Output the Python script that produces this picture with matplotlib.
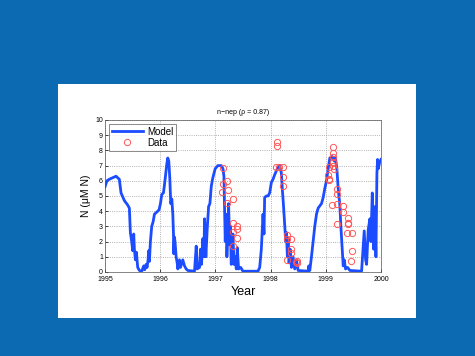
import numpy as np
import matplotlib.pyplot as plt
from matplotlib.patches import Rectangle

# Model curve (decimal year, N in uM N)
model_t = [1995.000, 1995.036, 1995.079, 1995.139, 1995.200, 1995.260, 1995.291, 1995.351,
           1995.412, 1995.442, 1995.460, 1995.484, 1995.502, 1995.521, 1995.533, 1995.551,
           1995.569, 1995.593, 1995.623, 1995.666, 1995.702, 1995.720, 1995.745, 1995.763,
           1995.781, 1995.793, 1995.805, 1995.823, 1995.847, 1995.872, 1995.896, 1995.956,
           1995.981, 1996.005, 1996.029, 1996.059, 1996.077, 1996.096, 1996.120, 1996.138,
           1996.156, 1996.174, 1996.192, 1996.211, 1996.229, 1996.241, 1996.247, 1996.259,
           1996.271, 1996.289, 1996.308, 1996.320, 1996.350, 1996.368, 1996.410, 1996.441,
           1996.471, 1996.501, 1996.622, 1996.653, 1996.671, 1996.713, 1996.731, 1996.749,
           1996.774, 1996.792, 1996.804, 1996.828, 1996.852, 1996.877, 1996.901, 1996.925,
           1996.943, 1996.961, 1996.998, 1997.046, 1997.107, 1997.137, 1997.155, 1997.167,
           1997.179, 1997.191, 1997.209, 1997.222, 1997.240, 1997.258, 1997.270, 1997.288,
           1997.318, 1997.337, 1997.361, 1997.379, 1997.397, 1997.421, 1997.458, 1997.500,
           1997.772, 1997.803, 1997.833, 1997.863, 1997.881, 1997.893, 1997.924, 1997.954,
           1997.984, 1998.015, 1998.045, 1998.075, 1998.123, 1998.166, 1998.196, 1998.214,
           1998.232, 1998.257, 1998.275, 1998.287, 1998.305, 1998.317, 1998.335, 1998.354,
           1998.378, 1998.408, 1998.438, 1998.469, 1998.499, 1998.680, 1998.692, 1998.711,
           1998.741, 1998.771, 1998.801, 1998.832, 1998.862, 1998.923, 1998.953, 1998.983,
           1999.013, 1999.044, 1999.074, 1999.116, 1999.153, 1999.177, 1999.201, 1999.225,
           1999.255, 1999.274, 1999.298, 1999.316, 1999.334, 1999.358, 1999.395, 1999.437,
           1999.649, 1999.697, 1999.722, 1999.740, 1999.770, 1999.800, 1999.818, 1999.843,
           1999.867, 1999.891, 1999.909, 1999.927, 1999.939, 1999.952, 1999.976, 2000.000]
model_n = [5.6, 6.0, 6.1, 6.2, 6.3, 6.1, 5.2, 4.7,
           4.4, 4.2, 2.6, 2.0, 1.4, 2.5, 1.5, 0.8,
           1.3, 0.3, 0.1, 0.05, 0.4, 0.15, 0.5, 0.3,
           0.8, 1.4, 0.7, 2.0, 3.0, 3.3, 3.8, 4.0,
           4.1, 4.5, 5.1, 5.2, 5.7, 6.3, 7.1, 7.5,
           7.3, 6.2, 4.5, 4.8, 3.8, 2.5, 1.2, 2.3,
           1.9, 1.0, 0.6, 0.2, 0.8, 0.3, 0.8, 0.4,
           0.2, 0.1, 0.05, 1.7, 0.2, 0.3, 1.5, 0.5,
           2.2, 1.0, 3.5, 1.0, 2.8, 4.3, 4.5, 5.6,
           6.0, 6.3, 6.8, 7.0, 7.0, 6.8, 6.3, 4.0,
           2.0, 3.8, 1.0, 2.2, 4.5, 1.8, 3.0, 0.5,
           2.5, 0.5, 1.0, 0.2, 1.6, 0.2, 0.3, 0.05,
           0.05, 0.3, 1.5, 3.8, 2.5, 4.9, 5.0, 5.0,
           5.2, 5.9, 6.1, 6.4, 6.8, 7.0, 6.5, 5.4,
           4.5, 3.0, 2.0, 2.6, 1.0, 2.2, 0.6, 1.5,
           0.3, 1.0, 0.2, 0.8, 0.1, 0.05, 0.4, 0.1,
           1.0, 2.0, 3.0, 3.8, 4.2, 4.5, 4.9, 5.5,
           6.0, 6.8, 7.5, 7.6, 7.3, 7.5, 6.8, 5.5,
           4.4, 3.0, 1.5, 0.4, 0.8, 0.2, 0.3, 0.1,
           0.05, 2.7, 0.8, 0.5, 2.8, 3.5, 2.0, 5.2,
           1.5, 4.3, 1.0, 6.5, 7.4, 6.8, 7.2, 7.4]

# Observations
data_t = [1997.14, 1997.14, 1997.12, 1997.215, 1997.23, 1997.215, 1997.325, 1997.32,
          1997.40, 1997.395, 1997.32, 1997.395, 1997.32,
          1998.117, 1998.117, 1998.105, 1998.148, 1998.227, 1998.227, 1998.22, 1998.30,
          1998.30, 1998.378, 1998.378, 1998.37, 1998.293, 1998.47, 1998.47, 1998.465,
          1999.04, 1999.055, 1999.055, 1999.055, 1999.128, 1999.128, 1999.128, 1999.14,
          1999.15, 1999.14, 1999.21, 1999.207, 1999.12, 1999.207, 1999.21, 1999.31,
          1999.305, 1999.395, 1999.395, 1999.395, 1999.383, 1999.467, 1999.467, 1999.46]
data_n = [6.81, 5.82, 5.27, 6.0, 5.38, 4.57, 4.79, 3.23,
          3.03, 2.86, 2.64, 2.24, 1.71,
          8.53, 8.31, 6.88, 6.88, 6.92, 6.22, 5.65, 2.46,
          2.15, 2.15, 1.54, 1.27, 0.77, 0.70, 0.59, 0.64,
          6.35, 6.13, 6.04, 6.88, 8.2, 7.8, 7.54, 7.23,
          6.77, 7.0, 5.49, 5.16, 4.40, 4.46, 3.14, 4.37,
          3.96, 3.58, 3.25, 3.14, 2.57, 2.59, 1.38, 0.70]

year_ticks = [1995, 1996, 1997, 1998, 1999, 2000]

plt.rcParams['font.family'] = ['Liberation Sans', 'DejaVu Sans']

fig = plt.figure(figsize=(4.75, 3.56), dpi=100, facecolor='#0b6ab2')
fig.patches.append(Rectangle((0.122, 0.107), 0.754, 0.657, transform=fig.transFigure,
                             facecolor='white', edgecolor='none', zorder=-10))

ax = fig.add_axes([0.221, 0.236, 0.581, 0.427])
ax.set_zorder(5)
ax.plot(model_t, model_n, color='#1c4cff', lw=2, label='Model', zorder=3)
ax.plot(data_t, data_n, 'o', mfc='none', mec='#ff5555', ms=4.5, mew=0.7,
        label='Data', zorder=4)

ax.set_xlim(1995, 2000)
ax.set_ylim(0, 10)
ax.set_xticks(year_ticks)
ax.set_xticklabels([str(y) for y in year_ticks])
ax.set_yticks(range(0, 11))
ax.tick_params(labelsize=5, length=2, width=0.5, direction='in', pad=1.5)
ax.tick_params(axis='x', pad=3)
ax.grid(True, linestyle=':', color='#999999', linewidth=0.6)
for s in ax.spines.values():
    s.set_linewidth(0.5)
    s.set_color('#555555')

ax.set_title('n\u2212nep (\u03c1 = 0.87)', fontsize=5, pad=4)
ax.set_xlabel('Year', fontsize=9, labelpad=2)
ax.set_ylabel('N (\u03bcM N)', fontsize=7.5, labelpad=3)

leg = ax.legend(loc='upper left', fontsize=7, frameon=True, fancybox=False,
                edgecolor='#333333', handlelength=3.2, borderpad=0.3,
                labelspacing=0.1, handletextpad=0.4, borderaxespad=0.4)
leg.get_frame().set_linewidth(0.5)

fig.savefig('out.png', dpi=100, facecolor=fig.get_facecolor())
